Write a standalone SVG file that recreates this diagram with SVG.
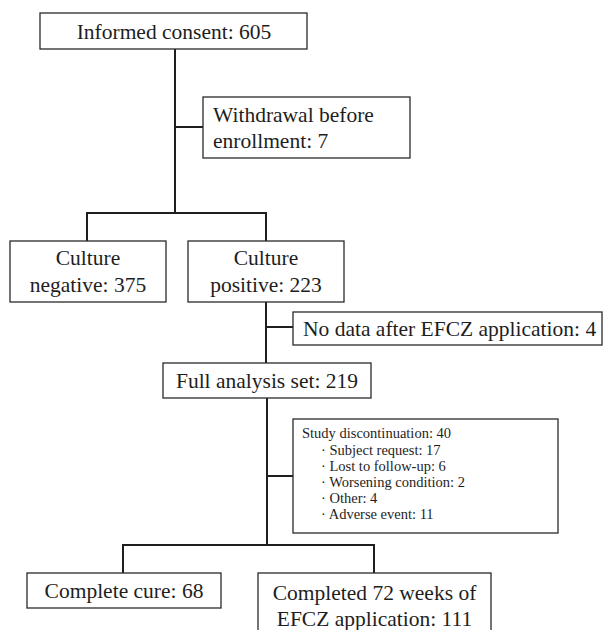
<svg xmlns="http://www.w3.org/2000/svg" width="603" height="630" viewBox="0 0 603 630">
<style>
.box{fill:#fff;stroke:#2a2a2a;stroke-width:1.3}
.t{font-family:'Liberation Serif','Times New Roman',Times,serif;font-size:21.5px;fill:#1e1e1e}
.c{text-anchor:middle}
.s{font-family:'Liberation Serif','Times New Roman',Times,serif;font-size:14.5px;fill:#1e1e1e}
.ln{fill:none;stroke:#1e1e1e;stroke-width:2}
</style>
<rect width="603" height="630" fill="#fff"/>
<g id="connectors">
<path class="ln" d="M175,49 V213"/>
<path class="ln" d="M175,127 H203"/>
<path class="ln" d="M87,241 V213 H266 V241"/>
<path class="ln" d="M266,302 V363"/>
<path class="ln" d="M266,327 H293"/>
<path class="ln" d="M267,398 V545"/>
<path class="ln" d="M267,476 H293"/>
<path class="ln" d="M123,573 V545 H374 V573"/>
</g>
<g id="informed">
<rect class="box" x="40" y="13" width="267" height="36"/>
<text class="t c" x="174" y="39">Informed consent: 605</text>
</g>
<g id="withdrawal">
<rect class="box" x="203" y="97" width="207" height="61"/>
<text class="t" x="213" y="122">Withdrawal before</text>
<text class="t" x="213" y="148">enrollment: 7</text>
</g>
<g id="culture-negative">
<rect class="box" x="10" y="241" width="156" height="61"/>
<text class="t c" x="88" y="265">Culture</text>
<text class="t c" x="88" y="292">negative: 375</text>
</g>
<g id="culture-positive">
<rect class="box" x="188" y="241" width="156" height="61"/>
<text class="t c" x="266" y="265">Culture</text>
<text class="t c" x="266" y="292">positive: 223</text>
</g>
<g id="no-data">
<rect class="box" x="293" y="312" width="309" height="33"/>
<text class="t" x="303" y="336">No data after EFCZ application: 4</text>
</g>
<g id="fas">
<rect class="box" x="163" y="363" width="208" height="35"/>
<text class="t c" x="267" y="388">Full analysis set: 219</text>
</g>
<g id="discontinuation">
<rect class="box" x="293" y="419" width="265" height="114"/>
<text class="s" x="302" y="438">Study discontinuation: 40</text>
<text class="s" x="321" y="455">· Subject request: 17</text>
<text class="s" x="321" y="471">· Lost to follow-up: 6</text>
<text class="s" x="321" y="487">· Worsening condition: 2</text>
<text class="s" x="321" y="503">· Other: 4</text>
<text class="s" x="321" y="519">· Adverse event: 11</text>
</g>
<g id="complete-cure">
<rect class="box" x="27" y="573" width="194" height="35"/>
<text class="t c" x="124" y="598">Complete cure: 68</text>
</g>
<g id="completed-72">
<rect class="box" x="258" y="573" width="233" height="70"/>
<text class="t c" x="374.5" y="600">Completed 72 weeks of</text>
<text class="t c" x="374.5" y="626">EFCZ application: 111</text>
</g>
</svg>
